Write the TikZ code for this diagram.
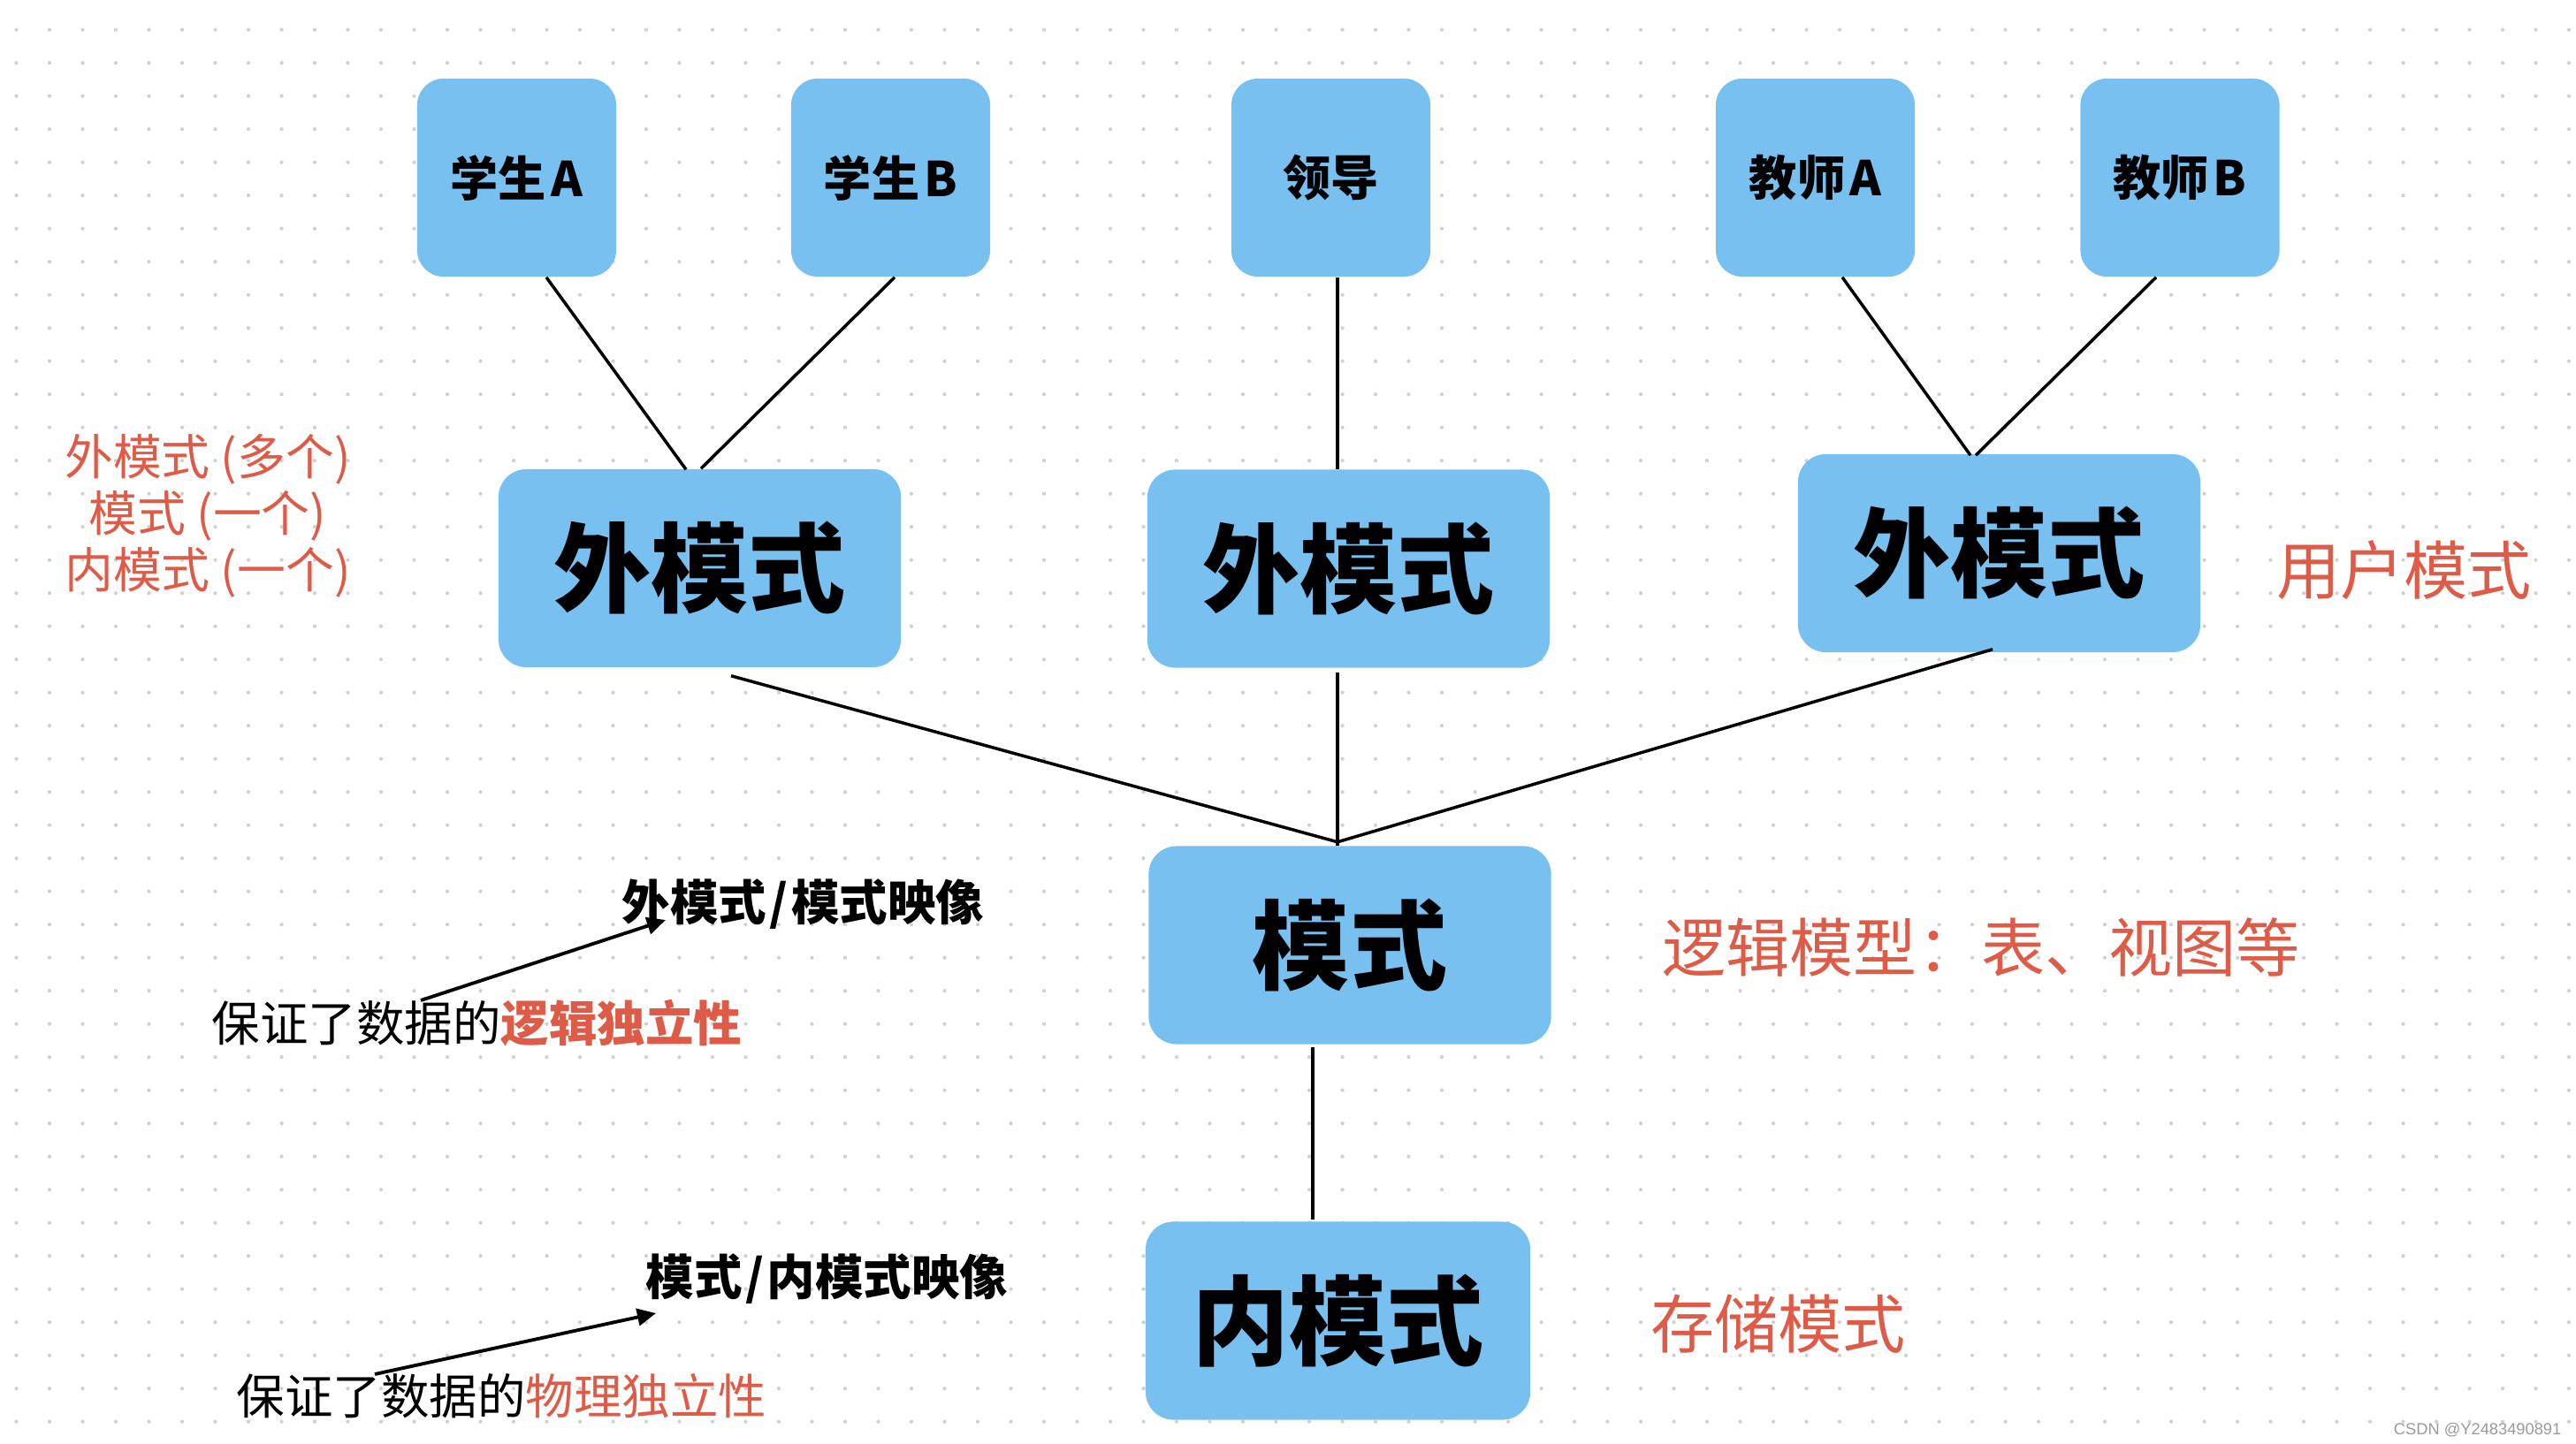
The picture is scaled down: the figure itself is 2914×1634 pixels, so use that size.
\documentclass[tikz,border=0pt]{standalone}
\usepackage{fontspec}
\setmainfont{Noto Sans CJK SC}
\newfontfamily\wmfont{Liberation Sans}
\usetikzlibrary{arrows.meta,calc}
\definecolor{boxblue}{HTML}{78C0F0}
\definecolor{redtxt}{HTML}{DE5B48}
\definecolor{dotgray}{HTML}{D0D0D0}
\definecolor{wmgray}{HTML}{9A9A9A}
\begin{document}
\begin{tikzpicture}[x=0.01cm,y=-0.01cm,
  smallbox/.style={fill=boxblue, rounded corners=8.5pt, minimum width=2.25cm, minimum height=2.24cm, inner sep=0pt, font=\fontsize{15.4}{18}\selectfont\bfseries},
  bigbox/.style={fill=boxblue, rounded corners=9pt, minimum width=4.55cm, minimum height=2.24cm, inner sep=0pt, font=\fontsize{31.3}{36}\selectfont\bfseries},
  link/.style={line width=1pt, black},
  arrowline/.style={line width=1.1pt, -{Triangle[length=6pt,width=5.5pt]}},
  redtext/.style={text=redtxt, inner sep=0pt},
  note/.style={inner sep=0pt, anchor=west, font=\fontsize{15.5}{18}\selectfont}
]
\useasboundingbox (0,0) rectangle (2914,1634);
\fill[white] (0,0) rectangle (2914,1634);
\foreach \i in {0,...,77} \foreach \j in {0,...,42} \fill[dotgray] (18.5+37.5*\i, 33.7+37.5*\j) circle (0.6pt);

% top boxes
\node[smallbox] (sA) at (584.5,201) {学生\hspace{1.5pt}A};
\node[smallbox] (sB) at (1007.5,201) {学生\hspace{1.5pt}B};
\node[smallbox] (ld) at (1505.5,201) {领导};
\node[smallbox] (tA) at (2053.5,201) {教师\hspace{1.5pt}A};
\node[smallbox] (tB) at (2466,201) {教师\hspace{1.5pt}B};

% big boxes
\node[bigbox] (e1) at (791.5,643) {外模式};
\node[bigbox] (e2) at (1525.5,643.5) {外模式};
\node[bigbox] (e3) at (2261.5,626) {外模式};
\node[bigbox] (m) at (1527,1069.5) {模式};
\node[bigbox, minimum width=4.35cm] (n) at (1513.5,1494.5) {内模式};

% connectors
\draw[link] ($(sA.south)+(33.5,0)$) -- ($(e1.north)+(-15.5,1)$);
\draw[link] ($(sB.south)+(4.5,0)$) -- ($(e1.north)+(1.5,0)$);
\draw[link] ($(ld.south)+(7.5,0)$) -- ($(e2.north)+(-12.5,0)$);
\draw[link] ($(tA.south)+(30.5,0)$) -- ($(e3.north)+(-32.5,2)$);
\draw[link] ($(tB.south)+(-27,0)$) -- ($(e3.north)+(-26.5,2)$);
\coordinate (j) at ($(e2.south)+(-12.5,196.5)$);
\draw[link] ($(e1.south)+(35.5,9)$) -- (j);
\draw[link] ($(e2.south)+(-12.5,5)$) -- (j);
\draw[link] ($(e3.south)+(-7.5,-4)$) -- (j);
\draw[link] (j) -- ($(m.north)+(-14,0)$);
\draw[line width=1.4pt] ($(m.south)+(-42,3)$) -- ($(n.north)+(-28.5,-2)$);

% red labels
\node[redtext, align=center, font=\fontsize{15.6}{18.2}\selectfont] (lg) at (235,584) {外模式 (多个)\\模式 (一个)\\内模式 (一个)};
\node[redtext, anchor=west, font=\fontsize{20.5}{24}\selectfont] (um) at (2575,645) {用户模式};
\node[redtext, anchor=west, font=\fontsize{20.5}{24}\selectfont] (lm) at (1880,1072) {逻辑模型：表、视图等};
\node[redtext, anchor=west, font=\fontsize{20.5}{24}\selectfont] (cc) at (1867,1498) {存储模式};

% notes
\node[note] (t1) at (703,1023) {\bfseries 外模式\hspace{1pt}/\hspace{1pt}模式映像};
\node[note] (t2) at (239,1158) {保证了数据的\textcolor{redtxt}{\bfseries 逻辑独立性}};
\node[note] (t3) at (730,1447) {\bfseries 模式\hspace{1pt}/\hspace{1pt}内模式映像};
\node[note] (t4) at (267,1580) {保证了数据的\textcolor{redtxt}{物理独立性}};
\draw[arrowline] ($(t2.west)+(237,-26)$) -- ($(t1.west)+(50,18)$);
\draw[arrowline] ($(t4.west)+(157,-25)$) -- ($(t3.west)+(12,39)$);

\node[anchor=east, text=wmgray, font=\wmfont\fontsize{5.2}{6}\selectfont, inner sep=0pt] (wm) at (2898,1618) {CSDN @Y2483490891};
\end{tikzpicture}
\end{document}
